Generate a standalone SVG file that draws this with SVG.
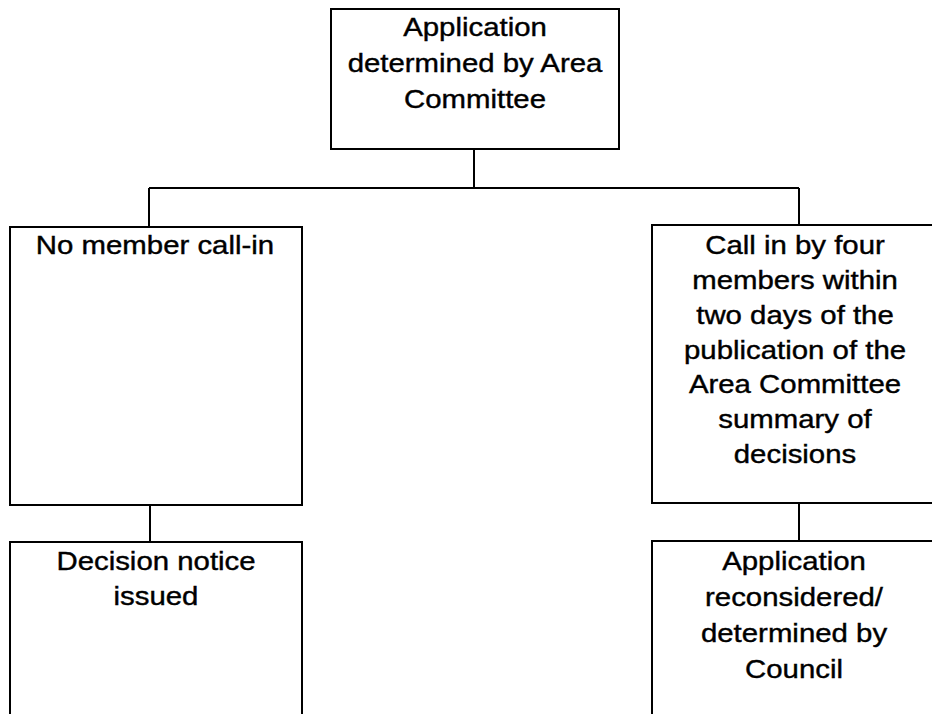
<svg xmlns="http://www.w3.org/2000/svg" width="932" height="714" viewBox="0 0 932 714">
<style>
.box{fill:#fff;stroke:#000;stroke-width:2}
.lbl{font-family:"Liberation Sans",Arial,sans-serif;font-size:26px;fill:#000;stroke:#000;stroke-width:0.4;text-anchor:middle}
.conn{fill:none;stroke:#000;stroke-width:2}
</style>
<rect width="932" height="714" fill="#fff"/>
<g id="connectors">
<path class="conn" d="M474,149 V188 M149,188 H799 M149,188 V227 M799,188 V225 M150,505 V542 M799,503 V541"/>
</g>
<g id="n-top">
<rect class="box" x="331" y="9" width="288" height="140"/>
<text class="lbl" transform="translate(475,0) scale(1.13,1)"><tspan x="0" y="36">Application</tspan><tspan x="0" y="72.5">determined by Area</tspan><tspan x="0" y="108.5">Committee</tspan></text>
</g>
<g id="n-nocall">
<rect class="box" x="10" y="227" width="292" height="278"/>
<text class="lbl" transform="translate(155,0) scale(1.13,1)"><tspan x="0" y="254.5">No member call-in</tspan></text>
</g>
<g id="n-callin">
<rect class="box" x="652" y="225" width="290" height="278"/>
<text class="lbl" transform="translate(795,0) scale(1.13,1)"><tspan x="0" y="254.5">Call in by four</tspan><tspan x="0" y="289.2">members within</tspan><tspan x="0" y="323.9">two days of the</tspan><tspan x="0" y="358.6">publication of the</tspan><tspan x="0" y="393.3">Area Committee</tspan><tspan x="0" y="428">summary of</tspan><tspan x="0" y="462.7">decisions</tspan></text>
</g>
<g id="n-notice">
<rect class="box" x="10" y="542" width="292" height="190"/>
<text class="lbl" transform="translate(156,0) scale(1.13,1)"><tspan x="0" y="570">Decision notice</tspan><tspan x="0" y="605">issued</tspan></text>
</g>
<g id="n-council">
<rect class="box" x="652" y="541" width="290" height="190"/>
<text class="lbl" transform="translate(794,0) scale(1.13,1)"><tspan x="0" y="570">Application</tspan><tspan x="0" y="606">reconsidered/</tspan><tspan x="0" y="642">determined by</tspan><tspan x="0" y="678">Council</tspan></text>
</g>
</svg>
